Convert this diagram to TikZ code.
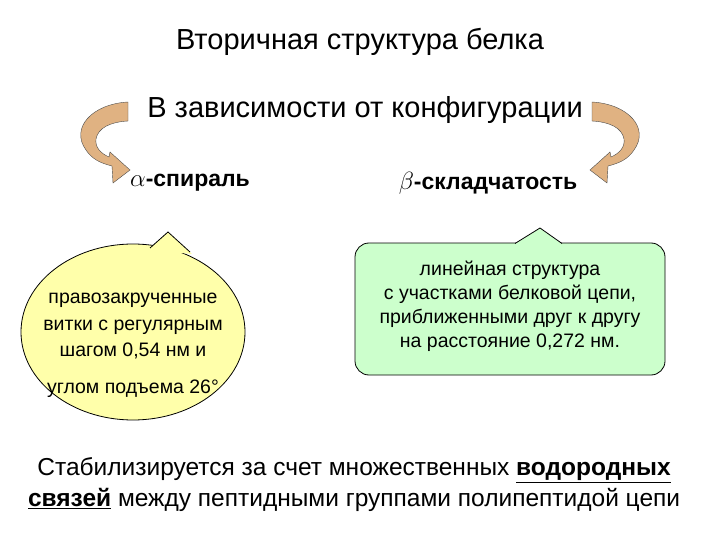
\documentclass[tikz,border=0pt]{standalone}
\usepackage{fontspec}
\setmainfont{Liberation Sans}
\definecolor{tan}{RGB}{224,178,130}
\definecolor{cyel}{RGB}{255,255,170}
\definecolor{cgrn}{RGB}{204,255,204}
\begin{document}
\begin{tikzpicture}[x=1pt,y=-1pt,
  ttl/.style={font=\fontsize{29}{34}\selectfont,anchor=center,inner sep=0},
  lbl/.style={font=\bfseries\fontsize{23}{27}\selectfont,inner sep=0},
  btxt/.style={font=\fontsize{19.5}{26.5}\selectfont,align=center,inner sep=0},
  rtxt/.style={font=\fontsize{19.5}{24}\selectfont,align=center,inner sep=0},
  ribbon/.style={fill=tan,draw=black!70,line width=0.4pt}]
\useasboundingbox (0,0) rectangle (720,540);
\node[ttl] (t1) at (360,42) {Вторичная структура белка};
\node[ttl] (t2) at (365,110) {В зависимости от конфигурации};
\node[lbl] (a) at (190,183) {$\alpha$-спираль};
\node[lbl] (b) at (488,183) {$\beta$-складчатость};
\def\arr{(128,102) .. controls (92,104) and (70,128) .. (86,150) .. controls (92,159) and (100,163) .. (112,166) -- (113,183) -- (130,170) -- (110,152) -- (109,157) .. controls (100,153) and (95,147) .. (96,139) .. controls (98,128) and (110,122) .. (128,121) -- cycle}
\filldraw[ribbon] \arr;
\begin{scope}[xshift=720pt,xscale=-1]
\filldraw[ribbon] \arr;
\end{scope}
% left callout
\filldraw[fill=cyel,draw=black,line width=0.8pt] (133,332) ellipse [x radius=112,y radius=88];
\fill[cyel] (148,250) -- (168,232) -- (192,254) -- cycle;
\draw[line width=0.8pt] (150,248) -- (168,232) -- (190,252);
\node[btxt] (l) at (133,326) {правозакрученные\\витки с регулярным\\шагом 0,54 нм и};
\node[btxt] (l2) at (133,389) {углом подъема 26°};
% right callout
\filldraw[fill=cgrn,draw=black,line width=0.8pt,rounded corners=14pt] (355,243) rectangle (665,375);
\fill[cgrn] (515,244) -- (540,228) -- (562,244) -- cycle;
\draw[line width=0.8pt] (515,243.5) -- (540,228) -- (562,243.5);
\node[rtxt] (r) at (510,306) {линейная структура\\с участками белковой цепи,\\приближенными друг к другу\\на расстояние 0,272 нм.};
\node[font=\fontsize{24.5}{31}\selectfont,align=center,inner sep=0] (s) at (354,485) {Стабилизируется за счет множественных \textbf{\underline{водородных}}\\\textbf{\underline{связей}} между пептидными группами полипептидой цепи};
\end{tikzpicture}
\end{document}
